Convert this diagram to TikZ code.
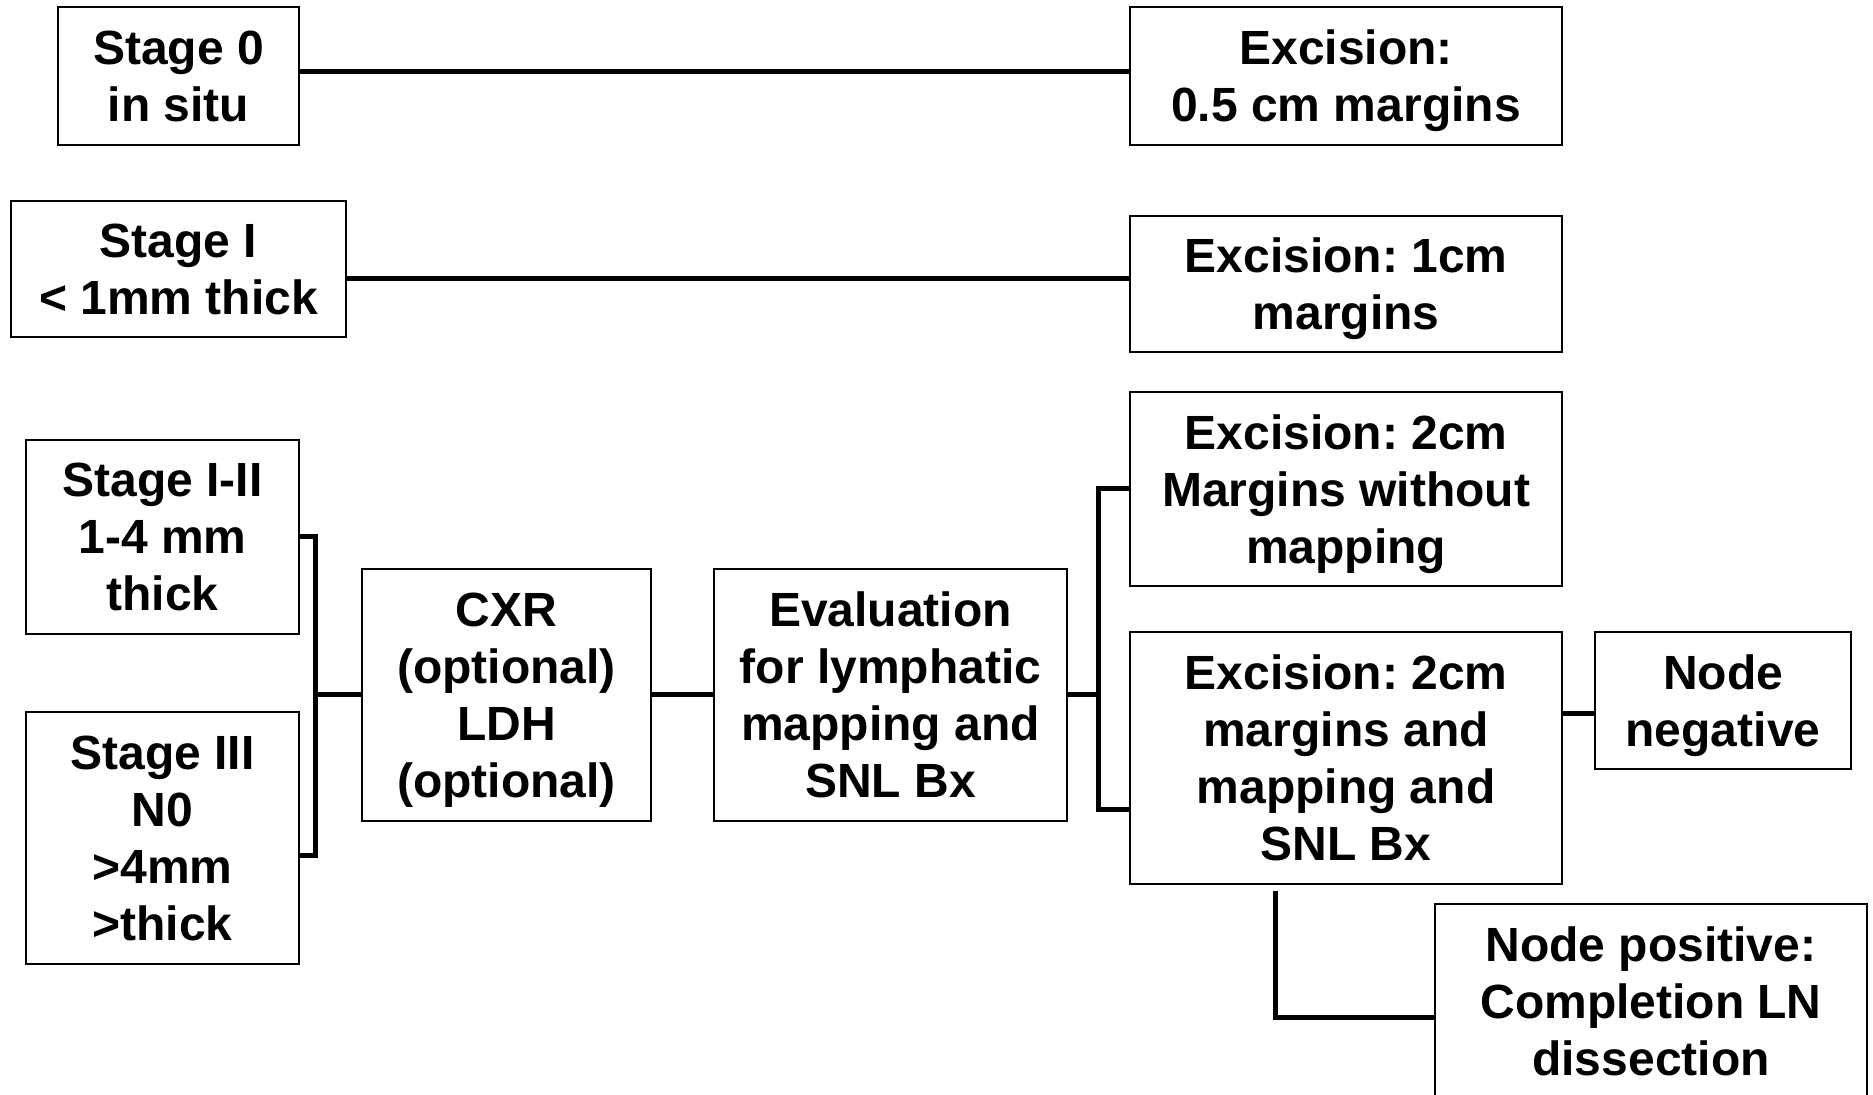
\documentclass[tikz,border=0pt]{standalone}
\usepackage{fontspec}
\setmainfont{Liberation Sans}
\frenchspacing
\usetikzlibrary{calc,
	positioning
}
\tikzset{
	stage/.style={draw, line width=1pt, align=center, inner sep=0pt, text=black, text depth=-1pt, font=\bfseries\fontsize{24}{28.5}\selectfont},
	link/.style={line width=2.5pt},
}

\begin{document}
\begin{tikzpicture}[x=0.5pt, y=-0.5pt]

\useasboundingbox (0,0) rectangle (1873,1095);

% boxes

\node[stage, minimum width=120.5pt, minimum height=69pt] (s0) at (178.5,76) {Stage 0\\in situ};
\node[stage, minimum width=167.5pt, minimum height=68pt] (s1) at (178.5,269) {Stage I\\< 1mm thick};
\node[stage, minimum width=136.5pt, minimum height=97pt] (s12) at (162.5,537) {Stage I-II\\1-4 mm\\thick};
\node[stage, minimum width=136.5pt, minimum height=126pt] (s3) at (162.5,838) {Stage III\\N0\\>4mm\\>thick};

\node[stage, minimum width=144.5pt, minimum height=126pt] (cxr) at (506.5,695) {CXR\\(optional)\\LDH\\(optional)};
\node[stage, minimum width=176.5pt, minimum height=126pt] (eval) at (890.5,695) {Evaluation\\for lymphatic\\mapping and\\SNL Bx};

\node[stage, minimum width=216pt, minimum height=69pt] (e0) at (1346,76) {Excision:\\0.5 cm margins};
\node[stage, minimum width=216pt, minimum height=68pt] (e1) at (1346,284) {Excision: 1cm\\margins};
\node[stage, minimum width=216pt, minimum height=97pt] (e2a) at (1346,489) {Excision: 2cm\\Margins without\\mapping};
\node[stage, minimum width=216pt, minimum height=126pt] (e2b) at (1346,758) {Excision: 2cm\\margins and\\mapping and\\SNL Bx};

\node[stage, minimum width=128pt, minimum height=68.5pt] (neg) at (1723,700.5) {Node\\negative};
\node[stage, minimum width=216pt, minimum height=97pt] (pos) at (1651,1001) {Node positive:\\Completion LN\\dissection};

\coordinate (jl) at (315,695);
\coordinate (jr) at (1098,695);

% connections

\draw[link] ($(s0.east)+(0,-4)$) -- ($(e0.west)+(0,-4)$);
\draw[link] ($(s1.east)+(0,10)$) -- ($(e1.west)+(0,-5)$);

\draw[link] (s12.east) -| (jl) |- ($(s3.east)+(0,17)$);
\draw[link] (jl) -- (cxr.west);
\draw[link] (cxr) -- (eval);

\draw[link] (eval) -- (jr);
\draw[link] (e2a.west) -| (jr) |- ($(e2b.west)+(0,51)$);

\draw[link] ($(e2b.east)+(0,-45)$) -- ($(neg.west)+(0,12.5)$);
\draw[link] ($(e2b.south)+(-71,6)$) |- ($(pos.west)+(0,16)$);

\end{tikzpicture}
\end{document}
